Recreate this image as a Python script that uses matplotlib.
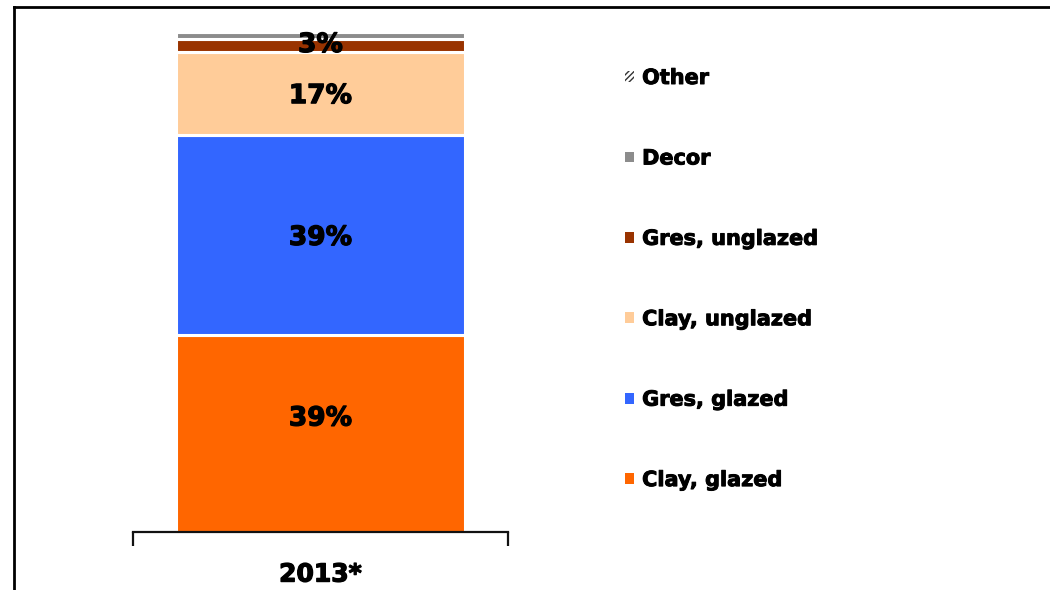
import matplotlib
matplotlib.use("Agg")
import matplotlib.pyplot as plt
import matplotlib.patheffects as pe
from matplotlib.patches import Patch
from matplotlib.lines import Line2D

# ---- data ----
category = "2013*"
series = ["Clay, glazed", "Gres, glazed", "Clay, unglazed", "Gres, unglazed", "Decor", "Other"]
values = [39.3, 40.0, 16.6, 2.6, 1.4, 0.1]
labels = ["39%", "39%", "17%", "3%", "", ""]
colors = ["#FF6600", "#3366FF", "#FFCC99", "#993300", "#8C8C8C", "#FFFFFF"]
hatches = [None, None, None, None, None, "//////"]
label_dy = [3.0, -0.6, -0.6, 0.0, 0.0, 0.0]  # small vertical nudges (data units)

plt.rcParams['font.family'] = ['DejaVu Sans']
heavy = [pe.withStroke(linewidth=0.9, foreground="black")]

fig = plt.figure(figsize=(10.5, 5.9), dpi=100)
ax = fig.add_axes([133 / 1050, 58 / 590, 375 / 1050, 501 / 590])

bottom = 0.0
for v, c, h, lab, dy in zip(values, colors, hatches, labels, label_dy):
    ax.bar(0, v, bottom=bottom, width=0.77, color=c, edgecolor="white",
           linewidth=2.2, hatch=h, zorder=2)
    if lab:
        ax.text(0, bottom + v / 2 + dy, lab, ha="center", va="center",
                fontsize=19, fontweight="bold", color="black", zorder=3,
                path_effects=heavy)
    bottom += v

ax.set_xlim(-0.5, 0.5)
ax.set_ylim(0, 100)
for s in ["top", "right", "left"]:
    ax.spines[s].set_visible(False)
ax.spines["bottom"].set_linewidth(1.6)
ax.spines["bottom"].set_color("#111111")
ax.set_yticks([])
ax.set_xticks([-0.5, 0.5])
ax.set_xticklabels(["", ""])
ax.tick_params(axis="x", length=10, width=1.6, color="#111111", direction="out")
ax.text(0, -8.5, category, ha="center", va="center", fontsize=18,
        fontweight="bold", transform=ax.transData, clip_on=False,
        path_effects=heavy)

# legend (reversed order, Other on top)
handles = []
for name, c, h in zip(series, colors, hatches):
    if h:
        handles.append(Patch(facecolor="white", edgecolor="#333333", hatch="//////",
                             linewidth=0, label=name))
    else:
        handles.append(Patch(facecolor=c, edgecolor="none", label=name))
leg = fig.legend(handles[::-1], series[::-1], loc="upper left",
                 bbox_to_anchor=(625 / 1050, 1 - 68 / 590), frameon=False,
                 prop={"size": 15, "weight": "bold"}, handlelength=0.42,
                 handleheight=0.42, handletextpad=0.4, labelspacing=2.9,
                 borderaxespad=0, borderpad=0)
for t in leg.get_texts():
    t.set_path_effects([pe.withStroke(linewidth=0.7, foreground="black")])

# outer frame lines (left and top)
fig.add_artist(Line2D([14 / 1050, 14 / 1050], [0, 1 - 7 / 590], color="black",
                      lw=2, transform=fig.transFigure))
fig.add_artist(Line2D([14 / 1050, 1], [1 - 7 / 590, 1 - 7 / 590], color="black",
                      lw=2, transform=fig.transFigure))

fig.savefig("out.png", dpi=100)
